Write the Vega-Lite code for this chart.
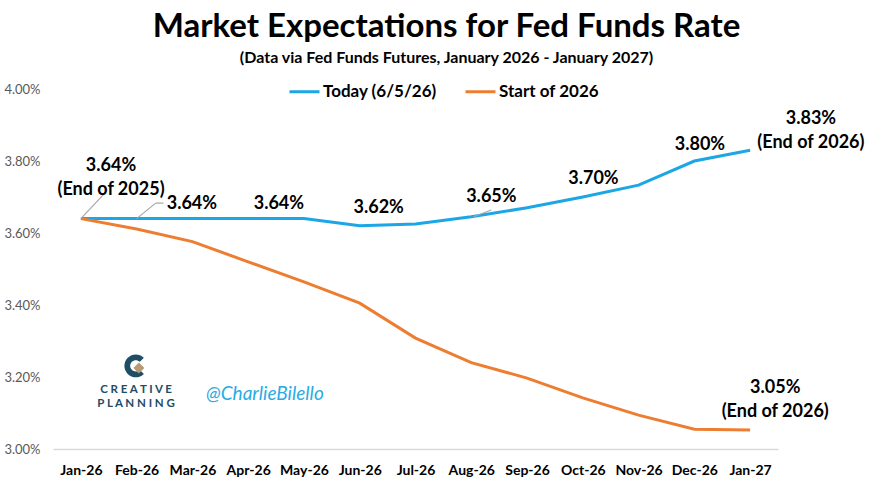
{
  "$schema": "https://vega.github.io/schema/vega-lite/v6.json",
  "width": 725,
  "height": 360,
  "autosize": {"type": "none"},
  "padding": {"left": 53, "top": 89, "right": 96, "bottom": 34},
  "background": "white",
  "title": {
    "text": "Market Expectations for Fed Funds Rate",
    "subtitle": "(Data via Fed Funds Futures, January 2026 - January 2027)",
    "anchor": "middle",
    "frame": "group",
    "dx": 31,
    "offset": 9,
    "font": "Lato",
    "fontSize": 33,
    "fontWeight": "bold",
    "color": "#000000",
    "subtitleFont": "Lato",
    "subtitleFontSize": 16,
    "subtitleFontWeight": "bold",
    "subtitleColor": "#000000",
    "subtitlePadding": 6
  },
  "config": {
    "view": {"stroke": null},
    "font": "Lato"
  },
  "layer": [
    {
      "data": {"values": [
        {"i": 0, "series": "Today (6/5/26)", "rate": 3.64},
        {"i": 1, "series": "Today (6/5/26)", "rate": 3.64},
        {"i": 2, "series": "Today (6/5/26)", "rate": 3.64},
        {"i": 3, "series": "Today (6/5/26)", "rate": 3.64},
        {"i": 4, "series": "Today (6/5/26)", "rate": 3.64},
        {"i": 5, "series": "Today (6/5/26)", "rate": 3.62},
        {"i": 6, "series": "Today (6/5/26)", "rate": 3.625},
        {"i": 7, "series": "Today (6/5/26)", "rate": 3.645},
        {"i": 8, "series": "Today (6/5/26)", "rate": 3.67},
        {"i": 9, "series": "Today (6/5/26)", "rate": 3.70},
        {"i": 10, "series": "Today (6/5/26)", "rate": 3.733},
        {"i": 11, "series": "Today (6/5/26)", "rate": 3.80},
        {"i": 12, "series": "Today (6/5/26)", "rate": 3.83},
        {"i": 0, "series": "Start of 2026", "rate": 3.64},
        {"i": 1, "series": "Start of 2026", "rate": 3.611},
        {"i": 2, "series": "Start of 2026", "rate": 3.576},
        {"i": 3, "series": "Start of 2026", "rate": 3.52},
        {"i": 4, "series": "Start of 2026", "rate": 3.464},
        {"i": 5, "series": "Start of 2026", "rate": 3.405},
        {"i": 6, "series": "Start of 2026", "rate": 3.308},
        {"i": 7, "series": "Start of 2026", "rate": 3.24},
        {"i": 8, "series": "Start of 2026", "rate": 3.197},
        {"i": 9, "series": "Start of 2026", "rate": 3.142},
        {"i": 10, "series": "Start of 2026", "rate": 3.094},
        {"i": 11, "series": "Start of 2026", "rate": 3.055},
        {"i": 12, "series": "Start of 2026", "rate": 3.053}
      ]},
      "mark": {"type": "line", "strokeWidth": 3},
      "encoding": {
        "x": {
          "field": "i", "type": "quantitative",
          "scale": {"domain": [-0.5, 12.5], "nice": false, "zero": false},
          "axis": {
            "title": null,
            "values": [0,1,2,3,4,5,6,7,8,9,10,11,12],
            "labelExpr": "['Jan-26','Feb-26','Mar-26','Apr-26','May-26','Jun-26','Jul-26','Aug-26','Sep-26','Oct-26','Nov-26','Dec-26','Jan-27'][datum.value]",
            "grid": false,
            "ticks": false,
            "domainColor": "#d9d9d9",
            "domainWidth": 1.5,
            "labelFont": "Lato",
            "labelFontSize": 14,
            "labelFontWeight": "bold",
            "labelColor": "#000000",
            "labelPadding": 14,
            "labelFlush": false,
            "labelOverlap": false
          }
        },
        "y": {
          "field": "rate", "type": "quantitative",
          "scale": {"domain": [3.0, 4.0], "nice": false, "zero": false},
          "axis": {
            "title": null,
            "values": [3.0, 3.2, 3.4, 3.6, 3.8, 4.0],
            "labelExpr": "format(datum.value, '.2f') + '%'",
            "grid": false,
            "ticks": false,
            "domain": false,
            "labelFont": "Lato",
            "labelFontSize": 13,
            "labelColor": "#595959",
            "labelPadding": 13
          }
        },
        "color": {
          "field": "series", "type": "nominal",
          "scale": {"domain": ["Today (6/5/26)", "Start of 2026"], "range": ["#1BA6E6", "#ED7D31"]},
          "legend": {
            "title": null,
            "orient": "none",
            "legendX": 235,
            "legendY": -14,
            "direction": "horizontal",
            "symbolType": "stroke",
            "symbolSize": 900,
            "symbolStrokeWidth": 3,
            "labelFont": "Lato",
            "labelFontSize": 17,
            "labelFontWeight": "bold",
            "labelColor": "#000000",
            "labelOffset": 2,
            "columnPadding": 22,
            "padding": 0
          }
        }
      }
    },
    {
      "data": {"values": [
        {"i": 0, "v": 3.64, "i2": 0.45, "v2": 3.714},
        {"i": 1.0, "v": 3.64, "i2": 1.34, "v2": 3.683},
        {"i": 1.34, "v": 3.683, "i2": 1.48, "v2": 3.683},
        {"i": 7.04, "v": 3.645, "i2": 7.36, "v2": 3.664}
      ]},
      "mark": {"type": "rule", "color": "#a6a6a6", "strokeWidth": 1.2},
      "encoding": {
        "x": {"field": "i", "type": "quantitative"},
        "y": {"field": "v", "type": "quantitative"},
        "x2": {"field": "i2"},
        "y2": {"field": "v2"}
      }
    },
    {
      "data": {"values": [
        {"i": 0.54, "v": 3.785, "label": ["3.64%", "(End of 2025)"]},
        {"i": 1.99, "v": 3.68, "label": ["3.64%"]},
        {"i": 3.55, "v": 3.68, "label": ["3.64%"]},
        {"i": 5.34, "v": 3.669, "label": ["3.62%"]},
        {"i": 7.36, "v": 3.70, "label": ["3.65%"]},
        {"i": 9.19, "v": 3.75, "label": ["3.70%"]},
        {"i": 11.1, "v": 3.844, "label": ["3.80%"]},
        {"i": 13.09, "v": 3.917, "label": ["3.83%", "(End of 2026)"]},
        {"i": 12.45, "v": 3.169, "label": ["3.05%", "(End of 2026)"]}
      ]},
      "mark": {"type": "text", "font": "Lato", "fontSize": 18, "fontWeight": "bold", "color": "#000000", "baseline": "middle", "align": "center", "lineHeight": 24},
      "encoding": {
        "x": {"field": "i", "type": "quantitative"},
        "y": {"field": "v", "type": "quantitative"},
        "text": {"field": "label"}
      }
    },
    {
      "data": {"values": [
        {"i": 0.985, "v": 3.231}
      ]},
      "mark": {"type": "point", "shape": "M 0.707 -0.707 A 1 1 0 1 0 0.707 0.707 L 0.354 0.354 A 0.5 0.5 0 1 1 0.354 -0.354 Z", "size": 520, "filled": true, "color": "#1E4D66", "opacity": 1},
      "encoding": {
        "x": {"field": "i", "type": "quantitative"},
        "y": {"field": "v", "type": "quantitative"}
      }
    },
    {
      "data": {"values": [
        {"i": 1.04, "v": 3.225}
      ]},
      "mark": {"type": "point", "shape": "diamond", "size": 120, "filled": true, "color": "#B79A76", "opacity": 1},
      "encoding": {
        "x": {"field": "i", "type": "quantitative"},
        "y": {"field": "v", "type": "quantitative"}
      }
    },
    {
      "data": {"values": [
        {"i": 0.99, "v": 3.164, "word": "C R E A T I V E"},
        {"i": 0.99, "v": 3.124, "word": "P L A N N I N G"}
      ]},
      "mark": {"type": "text", "font": "Lato", "fontSize": 11.5, "fontWeight": "bold", "color": "#1E4D66", "baseline": "middle", "align": "center"},
      "encoding": {
        "x": {"field": "i", "type": "quantitative"},
        "y": {"field": "v", "type": "quantitative"},
        "text": {"field": "word"}
      }
    },
    {
      "data": {"values": [
        {"i": 3.30, "v": 3.153, "handle": "@CharlieBilello"}
      ]},
      "mark": {"type": "text", "font": "Lato", "fontSize": 19, "fontStyle": "italic", "color": "#29ABE2", "baseline": "middle", "align": "center"},
      "encoding": {
        "x": {"field": "i", "type": "quantitative"},
        "y": {"field": "v", "type": "quantitative"},
        "text": {"field": "handle"}
      }
    }
  ]
}
